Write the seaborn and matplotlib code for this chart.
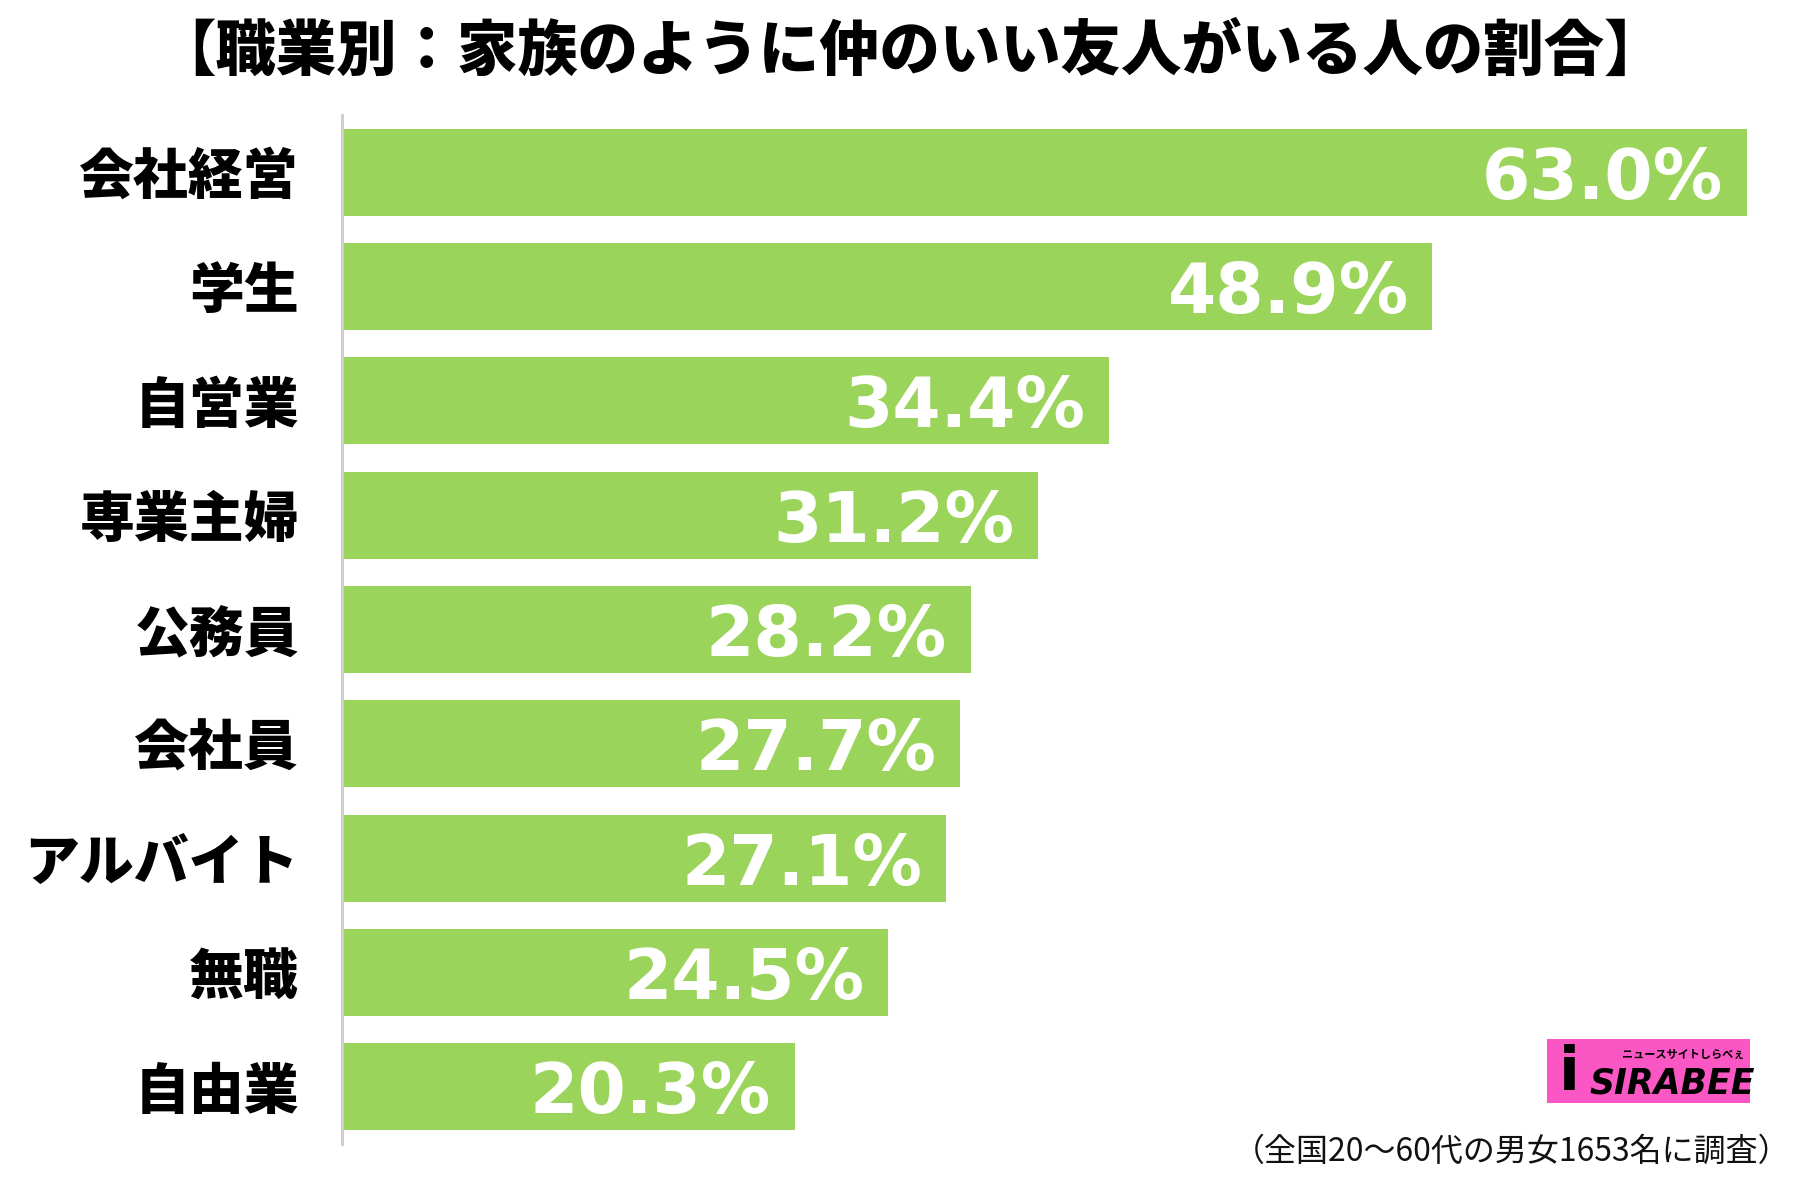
import matplotlib
matplotlib.use("Agg")
import matplotlib.pyplot as plt
import seaborn as sns
import pandas as pd
from matplotlib.patches import Rectangle

categories = ["会社経営", "学生", "自営業", "専業主婦", "公務員", "会社員", "アルバイト", "無職", "自由業"]
values = [63.0, 48.9, 34.4, 31.2, 28.2, 27.7, 27.1, 24.5, 20.3]
title = "【職業別：家族のように仲のいい友人がいる人の割合】"
footnote = "（全国20〜60代の男女1653名に調査）"

sns.set_theme(style="white")
plt.rcParams['font.family'] = ['Noto Sans CJK JP', 'DejaVu Sans']

df = pd.DataFrame({"cat": categories, "val": values})

fig = plt.figure(figsize=(18.2, 12), dpi=100)
ax = fig.add_axes([342/1820, (1200-1144)/1200, (1820-342)/1820, (1144-115)/1200])

sns.barplot(data=df, x="val", y="cat", orient="h", color="#9BD45B",
            saturation=1, width=0.76, ax=ax, edgecolor="none")

ax.set_xlim(0, (1820-342)/22.3)
ax.set_ylim(len(categories)-0.5, -0.5)

for i, v in enumerate(values):
    ax.annotate(f"{v:.1f}%", (v, i), xytext=(-17, -19), textcoords="offset points",
                ha="right", va="baseline", color="white", fontsize=50,
                fontweight="bold", family="DejaVu Sans")

ax.set_xlabel("")
ax.set_ylabel("")
ax.set_xticks([])
ax.tick_params(axis="y", length=0, pad=31)
for lab in ax.get_yticklabels():
    lab.set_fontsize(39.5)
    lab.set_fontweight("heavy")
    lab.set_color("black")
for s in ["top", "right", "bottom"]:
    ax.spines[s].set_visible(False)
ax.spines["left"].set_color("#CFCFCF")
ax.spines["left"].set_linewidth(2.2)

fig.text(0.5, 1 - 52/1200, title, ha="center", va="center", fontsize=43.5,
         fontweight="heavy", color="black")
fig.text(1790/1820, 1 - 1152/1200, footnote, ha="right", va="center",
         fontsize=23, color="#111111")

# logo
lx0, ly0, lx1, ly1 = 1547, 1039, 1750, 1103
fig.patches.append(Rectangle((lx0/1820, 1 - ly1/1200), (lx1-lx0)/1820, (ly1-ly0)/1200,
                             transform=fig.transFigure, facecolor="#FB57C4",
                             edgecolor="none", zorder=5))
fig.text((lx0+22)/1820, 1 - 1074/1200, "i", ha="center", va="center", fontsize=44,
         fontweight="bold", color="black", family="DejaVu Sans", zorder=6)
fig.text((lx0+42)/1820, 1 - 1084/1200, "SIRABEE", ha="left", va="center", fontsize=25,
         fontweight="bold", style="italic", color="black", family="DejaVu Sans", zorder=6)
fig.text((lx1-6)/1820, 1 - 1054/1200, "ニュースサイトしらべぇ", ha="right", va="center",
         fontsize=8, fontweight="bold", color="black", zorder=6)

fig.savefig("out.png", dpi=100, facecolor="white")
